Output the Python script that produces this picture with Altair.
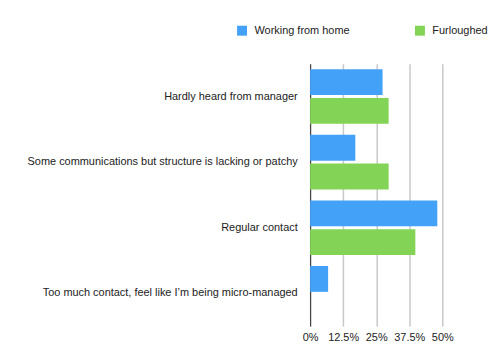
import altair as alt
import pandas as pd

categories = [
    "Hardly heard from manager",
    "Some communications but structure is lacking or patchy",
    "Regular contact",
    "Too much contact, feel like I\u2019m being micro-managed",
]
series = ["Working from home", "Furloughed"]
wfh = [0.274, 0.171, 0.481, 0.068]
furloughed = [0.297, 0.297, 0.398, 0.0]
tick_values = [0, 0.125, 0.25, 0.375, 0.5]
colors = ["#44A1F8", "#83D456"]

rows = []
for c, a, b in zip(categories, wfh, furloughed):
    rows.append({"category": c, "series": series[0], "value": a})
    rows.append({"category": c, "series": series[1], "value": b})
df = pd.DataFrame(rows)

FONT = "Liberation Sans"

chart = (
    alt.Chart(df)
    .mark_bar()
    .encode(
        y=alt.Y(
            "category:N",
            sort=categories,
            title=None,
            scale=alt.Scale(paddingInner=1 / 6, paddingOuter=1 / 12),
            axis=alt.Axis(
                ticks=False,
                domain=True,
                domainColor="#333333",
                domainWidth=1,
                labelPadding=13,
                labelLimit=400,
                labelFontSize=11,
                labelColor="#222222",
                labelFont=FONT,
                grid=False,
            ),
        ),
        yOffset=alt.YOffset(
            "series:N", sort=series, scale=alt.Scale(paddingInner=3 / 29, paddingOuter=0)
        ),
        x=alt.X(
            "value:Q",
            title=None,
            scale=alt.Scale(domain=[0, 0.5], nice=False),
            axis=alt.Axis(
                values=tick_values,
                format=".1~%",
                domain=False,
                ticks=False,
                grid=True,
                gridColor="#c8c8c8",
                gridWidth=1.5,
                labelPadding=5,
                labelOverlap=False,
                labelFlush=False,
                labelFontSize=11,
                labelColor="#222222",
                labelFont=FONT,
            ),
        ),
        color=alt.Color(
            "series:N",
            sort=series,
            scale=alt.Scale(domain=series, range=colors),
            legend=alt.Legend(
                title=None,
                orient="none",
                legendX=-74,
                legendY=-39,
                direction="horizontal",
                symbolType="square",
                symbolSize=100,
                symbolStrokeWidth=0,
                labelOffset=7,
                columnPadding=65,
                labelFontSize=11,
                labelColor="#222222",
                labelFont=FONT,
                padding=0,
            ),
        ),
    )
    .properties(
        width=133,
        height=264,
        autosize=alt.AutoSizeParams(type="none"),
        padding={"left": 304, "top": 55, "right": 50, "bottom": 30},
    )
    .configure_view(stroke=None)
)

chart.save("out.html", embed_options={"renderer": "svg", "actions": False})
